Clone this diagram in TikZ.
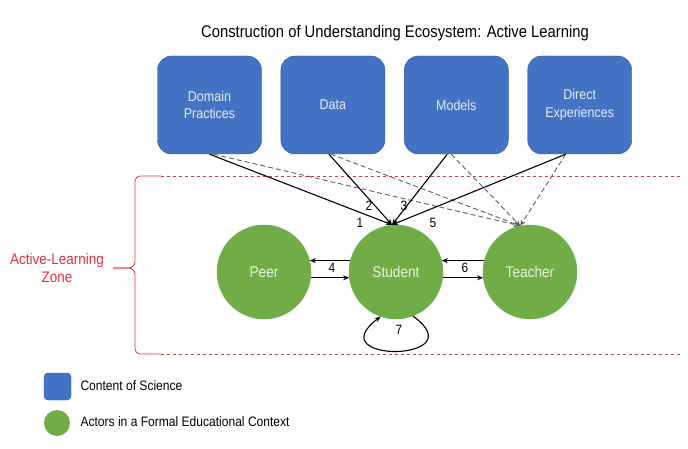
\documentclass[tikz,border=0pt]{standalone}
\usepackage{fontspec}
\setmainfont{Liberation Sans}[FakeStretch=0.88]
\usepackage{tikz}
\usetikzlibrary{positioning,arrows.meta}
\definecolor{boxblue}{RGB}{68,114,196}
\definecolor{boxedge}{RGB}{47,85,151}
\definecolor{actgreen}{RGB}{112,173,71}
\definecolor{zonered}{RGB}{225,50,60}
\definecolor{dashgray}{RGB}{95,95,95}

\begin{document}
\begin{tikzpicture}[x=1pt, y=1pt,
        cbox/.style={draw=boxedge, fill=boxblue, rounded corners=14pt, align=center,
                     minimum width=104pt, minimum height=98pt, text=white!88!boxblue,
                     font=\fontsize{14.2}{17.7}\selectfont},
        actor/.style={circle, draw=actgreen, fill=actgreen, minimum size=94pt,
                      text=white!85!actgreen, font=\fontsize{15.5}{18}\selectfont},
        arr/.style={-{Stealth[length=6pt,width=5pt]}, line width=1.1pt},
        darr/.style={-{Stealth[length=6pt,width=5pt]}, line width=0.9pt,
                     dash pattern=on 5pt off 3pt, dashgray},
        num/.style={font=\fontsize{13.5}{15}\selectfont},
        zone/.style={zonered, line width=0.8pt},
        legend/.style={anchor=west, font=\fontsize{13.7}{16}\selectfont}
    ]
    \useasboundingbox (0,0) rectangle (688,448);
    \node[font=\fontsize{16.8}{19}\selectfont] (title) at (395,415) {Construction of Understanding Ecosystem: Active Learning};

    % content of science
    \node[cbox] (dp) at (209.5,343) {Domain\\Practices};
    \node[cbox, right=19pt of dp] (da) {Data};
    \node[cbox, right=19pt of da] (mo) {Models};
    \node[cbox, right=19pt of mo] (de) {Direct\\Experiences};

    % actors
    \node[actor] (pe) at (264,176) {Peer};
    \node[actor] (st) at (396,176) {Student};
    \node[actor] (te) at (530,176) {Teacher};

    % active-learning zone
    \draw[zone, dashed] (161,272) -- (682,272);
    \draw[zone, dashed] (161,94) -- (682,94);
    \draw[zone] (161,272) -- (140,272) to[out=180,in=90] (135,267) -- (135,186)
        to[out=-90,in=0] (128,180) -- (113,180);
    \draw[zone] (113,180) -- (128,180) to[out=0,in=90] (135,174) -- (135,99)
        to[out=-90,in=180] (140,94) -- (161,94);
    \node[zonered, align=center, font=\fontsize{15.3}{18}\selectfont] (zn) at (57,180) {Active-Learning\\Zone};

    % dashed links to teacher
    \draw[darr] ([xshift=4pt]dp.south) -- (te.102);
    \draw[darr] ([xshift=-2pt]da.south) -- (te.102);
    \draw[darr] ([xshift=-5pt]mo.south) -- (te.102);
    \draw[darr] ([xshift=-14pt]de.south) -- (te.102);

    % solid links to student
    \draw[arr] (dp.south) -- ([xshift=-4pt]st.north);
    \draw[arr] ([xshift=-4pt]da.south) -- ([xshift=-4pt]st.north);
    \draw[arr] ([xshift=-9pt]mo.south) -- ([xshift=-4pt]st.north);
    \draw[arr] ([xshift=-14pt]de.south) -- ([xshift=-4pt]st.north);
    \node[num] (n1) at (360,225) {1};
    \node[num] (n2) at (369,242) {2};
    \node[num] (n3) at (404,242) {3};
    \node[num] (n5) at (433,225) {5};

    \draw[arr] (st.166) -- (pe.14);
    \draw[arr] (pe.-7) -- (st.187);
    \node[num] (n4) at (332,180) {4};
    \draw[arr] (te.166) -- (st.14);
    \draw[arr] (st.-7) -- (te.187);
    \node[num] (n6) at (465,180) {6};

    \draw[arr] (st.-69) .. controls +(64,-46) and +(-63,-47) .. (st.-109);
    \node[num] (n7) at (399,118) {7};

    % legend
    \node[draw=boxedge, fill=boxblue, rounded corners=4pt, minimum size=27pt] (lb) at (57.5,61.5) {};
    \node[legend] (lbt) at (77,62) {Content of Science};
    \node[circle, fill=actgreen, minimum size=26pt] (lg) at (57,25) {};
    \node[legend] (lgt) at (77,26) {Actors in a Formal Educational Context};
\end{tikzpicture}
\end{document}
